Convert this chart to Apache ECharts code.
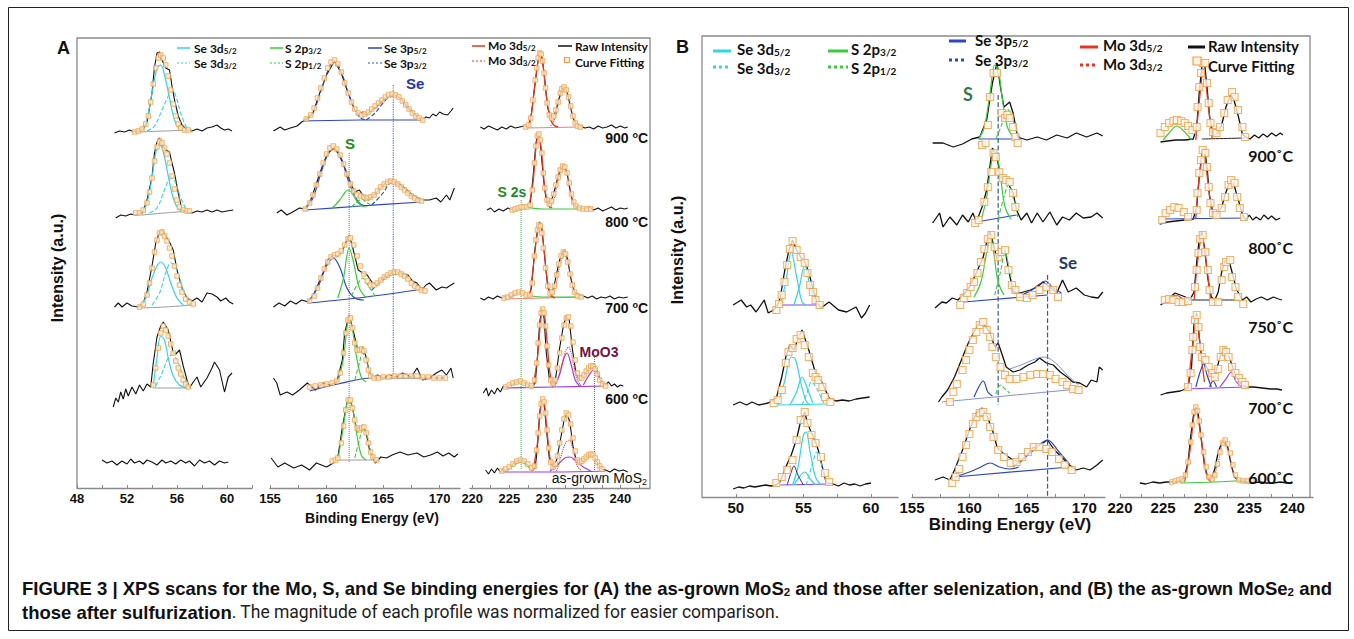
<!DOCTYPE html>
<html><head><meta charset="utf-8">
<script src="https://cdn.jsdelivr.net/npm/echarts@6/dist/echarts.min.js"></script>
<style>html,body{margin:0;padding:0;background:#fff}#c{width:1354px;height:639px}</style>
</head><body><div id="c"></div>
<script>
// ===== Axis tick labels =====
const ticksASe = [48, 52, 56, 60];
const ticksAS = [155, 160, 165, 170];
const ticksAMo = [220, 225, 230, 235, 240];
const ticksBSe = [50, 55, 60];
const ticksBS = [155, 160, 165, 170];
const ticksBMo = [220, 225, 230, 235, 240];
const tempA = ['900 ', '800 ', '700 ', '600 '];
const tempB = ['900', '800', '750', '700', '600'];

// ===== Panel A : Se 3d (x = eV, y = stacked intensity a.u.) =====
const aSe900 = [[51.0,355],[51.4,357],[51.8,356],[52.2,358],[52.6,356],[53.0,357],[53.3,359],[53.6,365],[54.0,395],[54.2,421],[54.4,435],[54.6,436],[54.8,428],[55.1,420],[55.4,418],[55.6,402],[55.8,388],[56.1,372],[56.4,363],[56.8,358],[57.2,357],[57.6,359],[58.0,357],[58.4,360],[58.8,361],[59.2,363],[59.5,360],[59.8,358],[60.1,359],[60.4,357]];
const aSe900C1 = [[53.0,357],[53.5,365],[54.0,395],[54.4,420],[54.7,423],[55.0,413],[55.4,390],[55.8,368],[56.2,359],[56.6,357]];
const aSe900C2 = [[53.6,357],[54.2,362],[54.8,378],[55.3,392],[55.6,398],[55.9,392],[56.3,375],[56.8,360],[57.2,357]];
const aSe900B = [[53.0,356],[55.0,357],[57.2,358]];
const aSe900Fit = [[52.6,356],[52.9,357],[53.2,359],[53.5,364],[53.7,372],[53.9,386],[54.1,404],[54.3,420],[54.5,430],[54.7,433],[54.9,430],[55.1,423],[55.3,412],[55.5,398],[55.7,384],[55.9,372],[56.1,364],[56.3,360],[56.6,358],[56.9,358]];
const aSe800 = [[51.1,270],[51.5,273],[51.9,272],[52.3,274],[52.7,273],[53.0,274],[53.3,277],[53.6,288],[54.0,311],[54.2,335],[54.4,346],[54.6,350],[54.8,343],[55.1,338],[55.4,336],[55.6,325],[55.8,315],[56.1,295],[56.4,278],[56.8,276],[57.2,275],[57.6,277],[58.0,276],[58.4,278],[58.8,276],[59.2,278],[59.6,276],[60.0,277],[60.5,278]];
const aSe800C1 = [[53.2,274],[53.6,285],[54.0,310],[54.3,335],[54.6,343],[54.9,336],[55.3,312],[55.7,290],[56.1,279],[56.5,276]];
const aSe800C2 = [[53.8,275],[54.4,280],[54.9,295],[55.3,307],[55.6,310],[55.9,305],[56.3,290],[56.8,278],[57.1,276]];
const aSe800B = [[53.2,273],[55.0,275],[57.1,277]];
const aSe800Fit = [[52.7,275],[53.0,275],[53.3,278],[53.6,285],[53.8,296],[54.0,310],[54.2,327],[54.4,341],[54.6,347],[54.8,345],[55.0,340],[55.2,334],[55.4,325],[55.6,312],[55.8,299],[56.0,288],[56.2,281],[56.5,278],[56.8,277],[57.0,277]];
const aSe700 = [[51.0,181],[51.3,185],[51.6,181],[52.0,185],[52.4,182],[52.9,181],[53.3,185],[53.6,196],[54.0,222],[54.3,245],[54.6,256],[54.8,258],[55.1,252],[55.4,246],[55.7,238],[56.0,218],[56.4,200],[56.8,190],[57.2,187],[57.6,190],[58.0,186],[58.4,195],[58.8,194],[59.2,191],[59.5,187],[59.9,190],[60.2,186],[60.5,184]];
const aSe700C1 = [[53.0,181],[53.5,190],[54.0,210],[54.4,222],[54.7,226],[55.1,220],[55.5,205],[56.0,190],[56.5,183]];
const aSe700C2 = [[54.0,183],[54.6,195],[55.1,215],[55.5,225],[55.8,223],[56.2,210],[56.6,195],[57.1,184]];
const aSe700B = [[53.0,180],[55.0,181],[57.3,183]];
const aSe700Fit = [[53.0,181],[53.3,184],[53.6,193],[53.8,205],[54.0,220],[54.2,236],[54.4,248],[54.6,255],[54.8,256],[55.0,252],[55.2,247],[55.4,240],[55.6,232],[55.8,222],[56.0,212],[56.2,203],[56.4,196],[56.7,189],[57.0,186],[57.3,184]];
const aSe600 = [[50.9,81],[51.1,90],[51.3,86],[51.5,96],[51.7,89],[51.9,99],[52.1,92],[52.4,101],[52.7,94],[53.0,103],[53.3,97],[53.6,104],[53.9,101],[54.1,125],[54.4,151],[54.7,162],[54.9,166],[55.3,158],[55.7,135],[55.9,134],[56.2,138],[56.5,122],[56.8,108],[57.0,100],[57.3,106],[57.6,111],[57.9,101],[58.4,110],[58.8,120],[59.0,126],[59.4,118],[59.8,96],[60.1,111],[60.4,115]];
const aSe600C1 = [[54.1,102],[54.4,130],[54.7,152],[55.0,148],[55.3,130],[55.7,112],[56.2,103],[56.8,100]];
const aSe600C2 = [[54.3,102],[54.8,115],[55.3,130],[55.6,133],[56.0,128],[56.5,112],[57.0,101]];
const aSe600B = [[54.1,100],[57.0,100]];
const aSe600Fit = [[54.1,103],[54.3,120],[54.5,140],[54.7,155],[54.9,162],[55.1,158],[55.3,152],[55.5,144],[55.7,135],[55.9,127],[56.1,120],[56.3,114],[56.5,108],[56.7,104],[56.9,101]];
const aSeAg = [[50.0,28],[50.4,25],[50.8,27],[51.2,23],[51.6,27],[52.0,24],[52.3,29],[52.6,25],[53.0,27],[53.3,24],[53.6,28],[54.0,26],[54.4,23],[54.8,28],[55.1,25],[55.5,27],[55.9,24],[56.3,28],[56.7,25],[57.0,27],[57.4,22],[57.8,28],[58.2,25],[58.6,27],[59.0,23],[59.4,27],[59.8,25],[60.1,26]];

// ===== Panel A : S 2p / Se 3p =====
const aS900 = [[155.3,357],[155.9,361],[156.3,358],[156.8,360],[157.4,362],[157.8,366],[158.3,369],[158.8,375],[159.4,395],[160.0,413],[160.7,427],[161.3,415],[161.9,395],[162.5,378],[162.9,373],[163.2,376],[163.5,373],[164.0,378],[164.4,381],[165.0,388],[165.4,391],[165.8,393],[166.2,392],[166.5,390],[167.1,381],[167.5,377],[167.8,373],[168.4,368],[168.8,371],[169.1,370],[169.4,374],[169.7,372],[170.0,376],[170.3,374],[170.7,373],[171.0,377],[171.2,380]];
const aS900C1 = [[158.0,368],[158.8,376],[159.6,400],[160.2,420],[160.7,427],[161.3,416],[161.9,396],[162.5,378],[163.0,370],[163.5,368]];
const aS900C2 = [[163.5,368],[164.3,375],[165.0,385],[165.8,392],[166.5,390],[167.2,381],[168.0,372],[168.5,368]];
const aS900B = [[158.0,367],[163.0,368],[168.5,368]];
const aS900Fit = [[158.2,369],[158.6,373],[158.9,380],[159.2,390],[159.5,400],[159.8,410],[160.1,420],[160.4,426],[160.7,428],[161.0,424],[161.3,416],[161.6,405],[161.9,395],[162.2,386],[162.5,379],[162.8,375],[163.1,373],[163.4,374],[163.7,376],[164.0,379],[164.3,382],[164.6,385],[164.9,388],[165.2,391],[165.5,393],[165.8,394],[166.1,393],[166.4,391],[166.7,387],[167.0,383],[167.3,379],[167.6,375],[167.9,372],[168.2,370],[168.5,368]];
const aS800 = [[155.6,275],[156.0,278],[156.5,273],[157.0,276],[157.6,280],[158.1,279],[158.6,288],[159.0,301],[159.6,321],[160.1,335],[160.7,340],[161.2,331],[161.8,315],[162.2,303],[162.5,296],[162.9,298],[163.2,293],[163.7,288],[164.4,295],[165.0,303],[165.6,308],[166.3,305],[166.9,300],[167.6,293],[168.4,288],[169.1,288],[169.7,290],[170.1,286],[170.6,293],[170.9,288],[171.3,300]];
const aS800C1 = [[158.1,279],[158.8,290],[159.5,315],[160.1,333],[160.7,340],[161.3,330],[161.9,308],[162.5,292],[163.0,284],[163.6,282]];
const aS800G1 = [[160.5,280],[161.1,287],[161.6,295],[161.9,298],[162.3,294],[162.8,285],[163.4,281]];
const aS800G2 = [[162.2,281],[162.7,286],[163.1,289],[163.5,286],[164.0,282]];
const aS800C2 = [[164.0,283],[165.0,295],[165.7,305],[166.5,302],[167.3,294],[168.3,287]];
const aS800B = [[158.1,278],[163.0,282],[168.4,286]];
const aS800Fit = [[158.1,279],[158.5,285],[158.8,293],[159.1,303],[159.4,314],[159.7,325],[160.0,334],[160.3,340],[160.6,342],[160.9,339],[161.2,333],[161.5,324],[161.8,314],[162.1,304],[162.4,297],[162.7,293],[163.0,292],[163.3,291],[163.6,290],[163.9,291],[164.2,293],[164.5,297],[164.8,301],[165.1,304],[165.4,306],[165.7,307],[166.0,306],[166.3,304],[166.6,301],[166.9,298],[167.2,295],[167.5,292],[167.8,290],[168.1,288],[168.4,287]];
const aS700 = [[155.3,181],[155.8,185],[156.3,182],[156.8,187],[157.3,184],[157.8,188],[158.4,186],[158.8,192],[159.3,205],[159.8,218],[160.1,228],[160.6,233],[161.0,232],[161.4,237],[161.8,248],[162.0,253],[162.3,241],[162.8,218],[163.2,215],[163.6,213],[164.0,206],[164.4,203],[164.8,208],[165.1,211],[165.6,214],[166.0,217],[166.3,216],[166.8,214],[167.2,213],[167.6,207],[168.0,205],[168.4,198],[168.8,203],[169.1,205],[169.7,198],[170.2,201],[170.6,200],[171.0,203],[171.3,205]];
const aS700C1 = [[158.4,187],[159.2,200],[160.0,222],[160.6,230],[161.2,220],[161.8,200],[162.5,190],[163.3,188]];
const aS700G1 = [[161.0,190],[161.5,210],[162.0,240],[162.4,225],[162.9,200],[163.5,190]];
const aS700G2 = [[162.2,192],[162.8,205],[163.2,210],[163.7,202],[164.3,192]];
const aS700C2 = [[164.0,198],[165.0,208],[166.0,214],[166.6,214],[167.4,208],[168.5,200]];
const aS700B = [[158.4,185],[163.5,191],[168.6,199]];
const aS700Fit = [[158.5,187],[158.9,192],[159.2,200],[159.5,210],[159.8,219],[160.1,226],[160.4,231],[160.7,233],[161.0,234],[161.3,237],[161.6,243],[161.9,249],[162.1,250],[162.4,243],[162.7,232],[163.0,222],[163.3,214],[163.6,207],[163.9,203],[164.2,203],[164.5,205],[164.8,208],[165.1,211],[165.4,213],[165.7,215],[166.0,216],[166.3,216],[166.6,214],[166.9,212],[167.2,209],[167.5,205],[167.8,202],[168.1,200],[168.4,198],[168.7,197]];
const aS600 = [[155.3,110],[155.6,105],[155.9,93],[156.5,96],[157.0,93],[157.6,98],[158.3,105],[159.0,98],[159.7,105],[160.3,103],[160.9,106],[161.4,128],[161.6,155],[162.0,173],[162.3,160],[162.7,141],[162.9,138],[163.2,141],[163.5,131],[163.8,115],[164.1,110],[164.5,113],[165.0,110],[165.6,113],[166.2,111],[166.7,115],[167.5,111],[168.0,120],[168.5,108],[169.1,110],[169.7,115],[170.2,118],[170.6,113],[171.0,120],[171.2,110]];
const aS600G1 = [[161.0,106],[161.5,130],[161.8,160],[162.0,170],[162.3,158],[162.7,128],[163.1,110],[163.5,106]];
const aS600G2 = [[162.5,108],[162.9,125],[163.2,135],[163.5,128],[163.9,112],[164.3,107]];
const aS600B = [[158.5,97],[161.0,104],[164.0,110],[170.5,110]];
const aS600Fit = [[158.5,101],[159.0,102],[159.5,103],[160.0,104],[160.5,105],[160.9,107],[161.2,115],[161.5,135],[161.7,155],[161.9,168],[162.1,170],[162.3,160],[162.5,145],[162.7,138],[162.9,138],[163.1,139],[163.3,137],[163.5,128],[163.7,118],[163.9,112],[164.2,110],[164.6,110],[165.0,111],[165.5,111],[166.0,112],[166.5,112],[167.0,112],[167.5,112],[168.0,112],[168.5,111],[169.0,111],[169.5,110],[170.0,110],[170.5,110]];
const aSAg = [[155.1,30],[155.7,21],[156.3,25],[157.1,20],[157.8,23],[158.5,18],[159.1,25],[160.0,21],[160.6,25],[161.0,31],[161.4,61],[161.8,85],[162.0,91],[162.3,80],[162.7,56],[163.0,58],[163.2,63],[163.5,55],[163.8,38],[164.3,25],[164.8,31],[165.3,30],[165.8,33],[166.5,36],[167.2,33],[168.0,35],[168.6,31],[169.2,33],[169.8,36],[170.3,32],[170.8,35],[171.3,31],[171.6,34]];
const aSAgG1 = [[161.0,28],[161.4,55],[161.8,84],[162.0,88],[162.3,80],[162.7,52],[163.1,32],[163.5,28]];
const aSAgG2 = [[162.5,30],[162.9,48],[163.3,60],[163.6,52],[164.0,34],[164.4,28]];
const aSAgB = [[161.0,28],[164.5,28]];
const aSAgFit = [[160.5,27],[160.8,28],[161.0,30],[161.3,45],[161.5,62],[161.7,78],[161.9,88],[162.1,88],[162.3,80],[162.5,68],[162.7,60],[162.9,58],[163.1,60],[163.3,61],[163.5,55],[163.7,45],[163.9,36],[164.1,31],[164.4,28]];
const aVLineS = [[162.0,335],[162.0,25]];
const aVLineSe = [[165.9,403],[165.9,110]];

// ===== Panel A : Mo 3d =====
const aMo900 = [[221.1,361],[221.6,359],[222.2,362],[222.8,360],[223.4,358],[224.0,361],[224.6,359],[225.2,362],[225.8,360],[226.4,361],[227.0,362],[227.6,362],[228.0,375],[228.5,405],[228.9,428],[229.2,436],[229.5,428],[229.9,400],[230.2,380],[230.6,371],[231.0,372],[231.4,380],[231.8,392],[232.1,399],[232.4,402],[232.8,396],[233.2,383],[233.6,370],[234.0,364],[234.6,362],[235.2,360],[235.8,361],[236.4,359],[237.0,362],[237.6,360],[238.2,361],[238.8,363],[239.4,360],[240.0,362],[240.6,360],[241.0,361]];
const aMo900R1 = [[227.2,361],[227.8,366],[228.4,400],[228.9,428],[229.2,433],[229.6,420],[230.0,392],[230.5,370],[231.0,363],[231.6,361]];
const aMo900R2 = [[230.6,362],[231.2,370],[231.8,390],[232.4,400],[233.0,392],[233.6,372],[234.2,363],[234.8,361]];
const aMo900B = [[227.2,360],[234.8,361]];
const aMo900Fit = [[227.2,361],[227.6,363],[227.9,370],[228.2,388],[228.5,408],[228.7,420],[228.9,430],[229.1,435],[229.3,434],[229.5,427],[229.7,415],[229.9,400],[230.1,385],[230.4,373],[230.7,370],[231.0,372],[231.3,378],[231.6,386],[231.9,395],[232.1,399],[232.4,401],[232.7,398],[233.0,391],[233.3,382],[233.6,372],[233.9,365],[234.2,362],[234.6,361]];
const aMo800 = [[222.0,278],[222.5,280],[223.0,276],[223.6,279],[224.2,277],[224.8,280],[225.4,278],[226.0,279],[226.6,280],[227.2,280],[227.8,282],[228.2,310],[228.6,345],[228.9,355],[229.2,345],[229.6,310],[230.0,287],[230.4,284],[230.8,290],[231.2,300],[231.6,312],[232.0,320],[232.4,323],[232.8,315],[233.2,298],[233.6,285],[234.0,281],[234.6,280],[235.2,279],[235.8,281],[236.4,278],[237.0,280],[237.6,277],[238.2,279],[238.8,281],[239.4,278],[240.0,280],[240.6,279],[241.0,280]];
const aMo800R1 = [[227.6,280],[228.2,305],[228.6,340],[228.9,352],[229.3,340],[229.8,300],[230.3,283],[230.8,280]];
const aMo800R2 = [[230.4,280],[231.0,288],[231.7,310],[232.3,320],[232.9,312],[233.5,290],[234.1,281],[234.6,280]];
const aMo800G = [[225.4,278],[226.2,280],[227.0,281],[228.0,280],[229.5,279],[231.5,279],[233.5,279],[235.0,279]];
const aMo800Fit = [[225.4,278],[225.8,279],[226.2,280],[226.6,281],[227.0,281],[227.4,281],[227.8,283],[228.1,298],[228.4,325],[228.6,342],[228.8,352],[229.0,354],[229.2,348],[229.4,335],[229.6,315],[229.8,300],[230.1,288],[230.4,284],[230.7,287],[231.0,294],[231.3,303],[231.6,311],[231.9,318],[232.2,322],[232.5,321],[232.8,315],[233.1,305],[233.4,294],[233.7,286],[234.0,282],[234.5,280],[235.0,279],[235.5,279],[236.0,279]];
const aMo700 = [[221.1,190],[221.6,188],[222.2,191],[222.8,189],[223.4,192],[224.0,190],[224.6,192],[225.2,191],[225.8,194],[226.4,196],[227.0,194],[227.6,192],[228.0,200],[228.4,235],[228.8,258],[229.1,266],[229.4,260],[229.8,230],[230.2,200],[230.6,195],[231.0,200],[231.4,215],[231.8,228],[232.2,236],[232.5,238],[232.9,228],[233.3,210],[233.8,196],[234.4,193],[235.0,192],[235.6,190],[236.2,192],[236.8,189],[237.4,191],[238.0,190],[238.6,192],[239.2,189],[239.8,191],[240.4,190],[241.0,191]];
const aMo700R1 = [[227.8,191],[228.3,225],[228.8,255],[229.2,262],[229.6,245],[230.1,210],[230.6,193],[231.2,190]];
const aMo700R2 = [[230.6,191],[231.2,200],[231.8,222],[232.4,234],[233.0,222],[233.6,200],[234.2,191]];
const aMo700G = [[224.3,190],[225.3,193],[226.2,195],[227.0,194],[228.0,192],[229.5,191],[232.0,191],[234.9,191]];
const aMo700B = [[224.3,189],[234.9,191]];
const aMo700Fit = [[224.3,190],[224.8,191],[225.3,193],[225.8,195],[226.3,196],[226.8,195],[227.3,193],[227.8,193],[228.1,205],[228.4,232],[228.6,248],[228.8,258],[229.0,263],[229.2,262],[229.4,255],[229.6,240],[229.9,220],[230.2,202],[230.5,195],[230.8,196],[231.1,202],[231.4,213],[231.7,224],[232.0,232],[232.3,236],[232.6,234],[232.9,226],[233.2,214],[233.5,203],[233.8,196],[234.2,192],[234.7,191]];
const aMo600 = [[221.5,95],[221.9,100],[222.2,92],[222.6,98],[223.0,94],[223.4,100],[223.8,96],[224.2,102],[224.6,100],[225.0,103],[225.5,104],[226.0,106],[226.5,107],[227.0,105],[227.5,103],[228.0,100],[228.5,105],[228.8,130],[229.1,165],[229.4,180],[229.7,170],[230.0,135],[230.4,110],[230.9,101],[231.3,112],[231.8,140],[232.3,162],[232.7,172],[233.1,168],[233.5,140],[234.0,115],[234.5,108],[235.0,112],[235.6,118],[236.0,122],[236.4,124],[236.8,118],[237.2,110],[237.6,104],[238.0,103],[238.4,106],[238.8,102],[239.2,104],[239.6,101],[240.0,103],[240.4,102]];
const aMo600R1 = [[228.2,101],[228.8,130],[229.3,172],[229.6,178],[230.0,155],[230.5,115],[231.0,102]];
const aMo600R2 = [[231.2,102],[231.9,115],[232.5,135],[233.0,141],[233.5,130],[234.1,110],[234.7,102]];
const aMo600P1 = [[231.0,102],[231.7,112],[232.3,128],[232.8,135],[233.3,125],[233.9,108],[234.5,102]];
const aMo600P2 = [[235.0,103],[235.7,112],[236.4,118],[237.0,112],[237.8,103]];
const aMo600B = [[224.5,100],[231.0,101],[238.0,102]];
const aMo600G = [[224.5,101],[225.5,104],[226.4,106],[227.3,104],[228.2,101]];
const aMo600Fit = [[224.5,101],[225.0,103],[225.5,105],[226.0,106],[226.5,107],[227.0,105],[227.5,103],[228.0,102],[228.4,108],[228.7,125],[228.9,145],[229.1,163],[229.3,175],[229.5,179],[229.7,175],[229.9,162],[230.1,142],[230.3,123],[230.6,108],[230.9,104],[231.2,108],[231.5,120],[231.8,135],[232.1,150],[232.4,163],[232.7,170],[233.0,171],[233.3,162],[233.6,146],[233.9,128],[234.2,115],[234.5,110],[234.8,110],[235.1,113],[235.4,117],[235.7,120],[236.0,122],[236.3,122],[236.6,119],[236.9,114],[237.2,108],[237.6,104],[238.0,102]];
const aMoAg = [[221.8,18],[222.2,14],[222.6,19],[223.0,15],[223.4,20],[223.8,16],[224.2,19],[224.6,17],[225.0,20],[225.5,24],[226.0,27],[226.5,28],[227.0,27],[227.5,23],[228.0,18],[228.5,20],[228.8,40],[229.1,75],[229.4,88],[229.7,85],[230.0,60],[230.4,30],[230.9,21],[231.4,28],[231.9,48],[232.4,68],[232.8,75],[233.2,65],[233.6,42],[234.1,26],[234.6,26],[235.1,28],[235.6,32],[236.1,33],[236.5,31],[237.0,24],[237.5,19],[238.0,18],[238.6,16],[239.2,19],[239.8,17],[240.4,18],[241.0,16]];
const aMoAgR1 = [[228.2,17],[228.8,45],[229.3,85],[229.6,88],[230.0,65],[230.5,30],[231.0,18]];
const aMoAgR2 = [[231.4,17],[232.0,32],[232.6,45],[233.1,48],[233.6,38],[234.2,22],[234.8,17]];
const aMoAgP1 = [[230.5,17],[231.5,23],[232.5,30],[233.2,31],[234.0,27],[235.0,21],[236.0,17]];
const aMoAgB = [[224.0,16],[231.0,16],[238.0,17]];
const aMoAgG = [[224.5,17],[225.5,22],[226.5,26],[227.3,23],[228.0,18]];
const aMoAgFit = [[224.0,17],[224.5,19],[225.0,21],[225.5,24],[226.0,27],[226.5,28],[227.0,27],[227.5,24],[228.0,20],[228.4,22],[228.7,38],[228.9,55],[229.1,72],[229.3,84],[229.5,89],[229.7,86],[229.9,75],[230.1,58],[230.3,40],[230.6,26],[230.9,21],[231.2,24],[231.5,32],[231.8,45],[232.1,58],[232.4,69],[232.7,75],[233.0,73],[233.3,64],[233.6,50],[233.9,37],[234.2,28],[234.5,26],[234.8,27],[235.1,29],[235.4,31],[235.7,33],[236.0,34],[236.3,33],[236.6,30],[236.9,26],[237.2,22],[237.5,19]];
const aVLineS2s = [[226.6,288],[226.6,18]];
const aVLineMoO3 = [[236.5,131],[236.5,18]];

// ===== Panel B : Se 3d =====
const bSe750 = [[49.8,192],[50.4,197],[50.8,190],[51.1,192],[51.5,185],[52.1,197],[52.4,184],[52.8,187],[53.1,192],[53.3,200],[53.6,225],[53.9,245],[54.2,257],[54.5,247],[54.8,240],[55.1,235],[55.4,225],[55.7,208],[56.0,195],[56.3,189],[56.9,195],[57.6,187],[58.2,185],[58.9,190],[59.3,179],[59.6,184],[59.9,192]];
const bSe750C1 = [[53.3,192],[53.7,215],[54.1,245],[54.5,220],[54.9,195],[55.2,192]];
const bSe750C2 = [[54.3,192],[54.7,210],[55.1,232],[55.5,210],[55.9,192]];
const bSe750B = [[53.3,192],[56.0,192]];
const bSe750Fit = [[53.0,187],[53.2,193],[53.4,202],[53.6,215],[53.8,232],[54.0,248],[54.2,256],[54.5,247],[54.8,240],[55.1,234],[55.3,224],[55.5,212],[55.7,205],[55.9,197],[56.2,192]];
const bSe700 = [[49.8,92],[50.3,95],[50.8,92],[51.2,95],[51.7,92],[52.4,94],[53.0,99],[53.4,120],[53.7,140],[54.0,152],[54.3,147],[54.6,158],[54.9,167],[55.2,155],[55.4,147],[55.9,124],[56.4,114],[56.9,99],[57.4,96],[57.9,97],[58.4,96],[58.9,98],[59.4,99],[59.9,100]];
const bSe700C1 = [[53.1,92],[53.6,115],[54.1,140],[54.4,138],[54.8,115],[55.2,96],[55.5,92]];
const bSe700C2 = [[54.0,92],[54.5,105],[54.9,120],[55.3,108],[55.7,94]];
const bSe700C3 = [[54.9,92],[55.3,105],[55.6,115],[56.0,108],[56.5,94]];
const bSe700B = [[53.1,92],[56.8,93]];
const bSe700Fit = [[52.8,94],[53.1,97],[53.4,107],[53.7,134],[53.9,145],[54.2,149],[54.5,158],[54.8,162],[55.1,152],[55.4,140],[55.7,124],[55.9,120],[56.1,117],[56.4,110],[56.6,100],[57.0,95]];
const bSe600 = [[49.8,8],[50.2,10],[50.6,9],[51.0,11],[51.4,10],[51.8,11],[52.2,12],[52.6,11],[53.0,12],[53.3,16],[53.7,30],[54.1,42],[54.5,58],[54.8,76],[55.1,85],[55.3,74],[55.6,64],[55.9,55],[56.1,47],[56.4,30],[56.7,14],[57.2,13],[57.6,11],[58.0,14],[58.4,12],[58.8,13],[59.2,11],[59.6,13],[60.0,14]];
const bSe600C1 = [[54.2,12],[54.6,30],[55.0,62],[55.2,65],[55.5,45],[55.9,20],[56.3,12]];
const bSe600C2 = [[55.2,12],[55.6,30],[56.0,45],[56.4,30],[56.8,12]];
const bSe600C3 = [[54.3,12],[54.7,20],[55.1,25],[55.5,18],[55.9,12]];
const bSe600N = [[53.8,12],[54.1,25],[54.3,31],[54.6,22],[55.0,12]];
const bSe600B = [[53.3,12],[57.0,13]];
const bSe600Fit = [[53.0,14],[53.4,20],[53.8,27],[54.2,37],[54.5,57],[54.8,77],[55.1,85],[55.3,74],[55.6,62],[55.9,54],[56.3,40],[56.6,24],[56.9,15]];

// ===== Panel B : S 2p / Se 3p =====
const bS900 = [[156.8,354],[157.7,354],[158.6,350],[159.4,353],[160.2,358],[160.9,360],[161.5,377],[162.0,414],[162.4,434],[162.7,410],[163.0,390],[163.5,395],[163.8,384],[164.2,360],[165.0,357],[165.9,360],[166.7,357],[167.6,362],[168.5,359],[169.3,364],[170.2,360],[171.1,364],[171.6,361]];
const bS900G1 = [[160.8,358],[161.3,370],[161.8,405],[162.2,432],[162.5,428],[162.9,395],[163.3,370],[163.8,360]];
const bS900G2 = [[162.3,358],[162.8,372],[163.3,388],[163.7,380],[164.1,365],[164.5,358]];
const bS900B = [[160.8,358],[164.5,358]];
const bS900Fit = [[161.1,352],[161.4,354],[161.6,372],[161.8,400],[162.1,424],[162.4,424],[162.8,384],[163.1,379],[163.3,382],[163.5,379],[163.8,370],[164.0,360],[164.2,354]];
const bS800 = [[156.8,274],[157.4,284],[157.7,270],[158.3,280],[158.9,272],[159.4,282],[159.9,275],[160.3,284],[160.6,275],[161.1,290],[161.5,307],[162.0,349],[162.4,340],[162.7,320],[163.2,317],[163.8,304],[164.1,287],[164.5,277],[165.0,284],[165.4,274],[165.9,284],[166.4,275],[167.0,285],[167.6,272],[168.1,280],[168.7,277],[169.3,284],[169.9,279],[170.6,280],[171.1,284],[171.6,279]];
const bS800G1 = [[161.0,276],[161.5,300],[162.0,340],[162.3,345],[162.7,320],[163.1,290],[163.6,278]];
const bS800G2 = [[162.5,278],[163.0,300],[163.4,312],[163.8,300],[164.2,280]];
const bS800B = [[160.6,275],[164.1,282]];
const bS800Fit = [[160.5,274],[160.8,277],[161.3,295],[161.6,310],[161.9,325],[162.1,344],[162.3,340],[162.6,325],[162.9,319],[163.2,317],[163.5,315],[163.8,304],[164.0,290]];
const bS750 = [[157.0,189],[157.6,195],[158.0,194],[158.5,199],[159.0,197],[159.6,204],[160.0,210],[160.6,224],[161.2,240],[161.5,255],[161.8,265],[162.1,252],[162.4,238],[162.7,243],[163.1,247],[163.4,228],[163.8,205],[164.4,204],[165.3,207],[165.9,210],[166.4,215],[167.0,210],[167.6,204],[168.1,217],[168.6,205],[169.3,209],[170.0,202],[170.6,200],[171.2,199],[171.6,205]];
const bS750G1 = [[160.4,200],[161.0,215],[161.5,245],[161.8,262],[162.1,245],[162.5,215],[163.0,202]];
const bS750G2 = [[162.2,202],[162.7,225],[163.1,245],[163.5,225],[163.9,205]];
const bS750B = [[159.5,195],[166.8,202]];
const bS750C = [[164.5,202],[165.3,206],[166.0,212],[166.6,216],[167.2,210],[168.0,204]];
const bS750Fit = [[159.2,192],[159.5,199],[159.8,204],[160.1,210],[160.4,215],[160.7,224],[161.0,235],[161.3,248],[161.6,258],[161.9,262],[162.2,250],[162.5,240],[162.8,245],[163.1,247],[163.4,227],[163.7,212],[164.0,207],[164.4,200],[165.0,199],[165.5,202],[166.1,207],[166.7,210],[167.3,207],[167.7,200]];
const bS700 = [[157.3,95],[157.6,100],[158.1,107],[158.7,120],[159.3,137],[159.9,154],[160.5,167],[160.9,175],[161.3,172],[161.8,164],[162.2,150],[162.5,154],[162.8,144],[163.2,130],[163.8,125],[164.4,127],[165.1,132],[165.7,135],[166.1,139],[166.7,134],[167.3,132],[167.9,125],[168.5,120],[169.0,115],[169.6,114],[170.2,110],[170.6,117],[171.1,115],[171.3,130],[171.6,127]];
const bS700B = [[157.6,95],[169.5,108]];
const bS700C = [[160.4,100],[160.9,112],[161.2,116],[161.6,105],[162.0,101]];
const bS700C2 = [[163.5,128],[164.5,132],[165.5,137],[166.5,140],[167.5,134],[168.5,122],[169.5,112]];
const bS700G2 = [[162.3,103],[162.7,112],[163.1,108],[163.5,104]];
const bS700Fit = [[158.3,95],[158.6,105],[158.9,113],[159.4,127],[159.7,137],[160.0,147],[160.3,157],[160.6,165],[160.9,172],[161.2,175],[161.5,167],[161.8,160],[162.0,150],[162.3,140],[162.7,130],[163.1,122],[163.5,118],[164.1,118],[164.7,120],[165.3,122],[165.9,123],[166.4,123],[167.0,122],[167.5,118],[168.1,115],[168.5,112],[169.0,108],[169.5,107]];
const bS600 = [[157.0,17],[157.7,20],[158.3,17],[158.7,27],[159.4,47],[160.0,67],[160.6,84],[161.1,89],[161.5,82],[162.0,67],[162.4,50],[162.9,44],[163.8,37],[164.4,35],[165.0,42],[165.5,49],[166.1,52],[166.8,57],[167.4,47],[168.1,39],[168.7,32],[169.3,27],[169.9,29],[170.5,27],[171.1,32],[171.6,37]];
const bS600C1 = [[158.7,20],[160.0,25],[161.0,30],[161.8,34],[162.6,30],[163.5,28],[164.3,30]];
const bS600C2 = [[163.8,30],[164.6,37],[165.6,47],[166.8,57],[167.8,45],[168.7,33]];
const bS600B = [[158.7,20],[168.7,30]];
const bS600Fit = [[158.5,14],[158.8,20],[159.1,28],[159.4,40],[159.7,52],[160.0,63],[160.3,73],[160.6,80],[160.9,84],[161.2,85],[161.5,80],[161.8,70],[162.1,60],[162.5,47],[163.0,40],[163.6,34],[164.1,35],[164.6,40],[165.1,45],[165.6,50],[166.1,50],[166.7,48],[167.2,45],[167.8,38],[168.3,32],[168.9,27]];
const bVLineS = [[162.5,402],[162.5,92]];
const bVLineSe = [[166.8,222],[166.8,0]];

// ===== Panel B : Mo 3d =====
const bMo900 = [[224.7,355],[225.5,356],[226.5,357],[227.5,357],[228.5,358],[228.9,370],[229.2,405],[229.5,430],[229.8,435],[230.1,410],[230.4,380],[230.8,362],[231.3,363],[231.8,372],[232.3,390],[232.8,402],[233.2,398],[233.7,382],[234.2,363],[234.6,360],[235.1,358],[235.6,362],[236.1,359],[236.6,363],[237.1,360],[237.6,364],[238.1,361],[238.6,364],[238.9,362]];
const bMo900G = [[225.0,357],[225.8,365],[226.6,371],[227.4,366],[228.3,357]];
const bMo900R = [[228.8,357],[229.2,395],[229.7,428],[230.2,395],[230.7,358]];
const bMo900B = [[229.5,358],[234.5,359]];
const bMo900Fit = [[224.7,364],[225.2,370],[225.7,374],[226.2,376],[226.6,377],[227.1,376],[227.5,374],[227.9,371],[228.4,367],[228.9,370],[229.0,390],[229.2,410],[229.4,424],[229.6,434],[229.9,434],[230.1,414],[230.3,394],[230.5,374],[230.8,365],[231.2,364],[231.6,370],[232.1,384],[232.5,397],[233.0,405],[233.3,400],[233.7,387],[234.2,370],[234.5,360]];
const bMo800 = [[224.6,273],[225.5,275],[226.5,276],[227.5,277],[228.5,278],[228.9,290],[229.2,320],[229.5,343],[229.8,349],[230.1,330],[230.4,300],[230.8,284],[231.3,283],[231.8,290],[232.3,305],[232.8,316],[233.2,313],[233.7,298],[234.2,283],[234.6,277],[235.0,282],[235.4,277],[235.8,280],[236.3,277],[236.7,282],[237.2,278],[237.6,281],[238.1,277],[238.6,279]];
const bMo800R = [[228.8,279],[229.2,320],[229.7,345],[230.2,315],[230.7,280]];
const bMo800B = [[225.0,278],[234.5,279]];
const bMo800Fit = [[224.9,277],[225.3,284],[225.8,287],[226.3,290],[226.8,289],[227.4,285],[227.9,280],[228.9,287],[229.0,304],[229.2,324],[229.4,337],[229.6,347],[229.9,344],[230.1,330],[230.3,310],[230.5,294],[230.8,284],[231.2,282],[231.8,289],[232.2,300],[232.6,312],[232.9,317],[233.3,314],[233.6,300],[233.9,289],[234.4,280]];
const bMo750 = [[224.7,192],[225.2,195],[225.8,200],[226.4,204],[227.0,202],[227.6,200],[228.1,197],[228.6,205],[228.9,235],[229.2,258],[229.5,265],[229.8,250],[230.2,218],[230.6,200],[231.0,197],[231.4,205],[231.8,225],[232.2,236],[232.6,238],[233.0,225],[233.5,208],[234.2,197],[234.7,200],[235.2,195],[235.8,198],[236.4,200],[237.1,197],[237.8,200],[238.4,198],[238.8,197]];
const bMo750M = [[225.0,193],[225.8,199],[226.5,202],[227.3,198],[228.0,194]];
const bMo750R = [[228.6,197],[229.0,235],[229.5,260],[230.0,235],[230.5,198]];
const bMo750B = [[228.0,197],[234.0,197]];
const bMo750Fit = [[225.2,197],[225.7,198],[226.2,197],[226.8,195],[227.3,195],[227.9,196],[228.7,210],[228.9,227],[229.1,244],[229.3,258],[229.6,262],[229.9,245],[230.2,227],[230.4,207],[230.8,195],[231.4,195],[231.8,217],[232.1,230],[232.3,235],[232.8,237],[233.0,220],[233.4,210],[233.7,200],[234.3,193]];
const bMo700 = [[224.7,102],[225.4,104],[226.2,105],[227.0,106],[227.6,108],[227.9,110],[228.3,130],[228.6,175],[228.9,184],[229.2,160],[229.5,137],[229.9,132],[230.3,126],[230.8,119],[231.2,127],[231.6,140],[232.1,150],[232.5,144],[233.0,132],[233.5,120],[234.0,114],[234.6,110],[235.5,110],[236.5,109],[237.5,108],[238.2,108],[238.8,107]];
const bMo700R = [[227.9,110],[228.4,150],[228.9,180],[229.3,150],[229.8,115]];
const bMo700C1 = [[228.8,110],[229.3,125],[229.7,133],[230.1,122],[230.6,110]];
const bMo700C2 = [[230.4,110],[230.8,116],[231.2,110]];
const bMo700P = [[231.6,110],[232.3,118],[232.9,125],[233.5,115],[234.2,110]];
const bMo700B = [[227.6,108],[234.5,110]];
const bMo700Fit = [[227.9,110],[228.2,124],[228.4,147],[228.5,160],[228.7,177],[228.9,182],[229.1,170],[229.3,150],[229.5,140],[229.9,137],[230.3,130],[230.7,124],[231.0,120],[231.4,128],[231.7,140],[232.0,147],[232.3,145],[232.6,140],[233.0,130],[233.4,124],[233.8,119],[234.2,115],[234.5,112]];
const bMo600 = [[222.3,14],[223.0,13],[223.8,15],[224.6,14],[225.4,15],[226.2,15],[227.0,16],[227.5,20],[227.9,35],[228.2,60],[228.5,80],[228.8,90],[229.1,82],[229.4,60],[229.8,32],[230.2,19],[230.6,18],[231.0,28],[231.4,45],[231.8,54],[232.1,57],[232.5,50],[232.9,32],[233.3,20],[233.8,16],[234.5,15],[235.3,14],[236.2,15],[237.0,14],[237.8,14],[238.6,15],[239.4,14],[240.0,14]];
const bMo600R1 = [[227.5,15],[228.1,45],[228.8,88],[229.4,60],[230.1,20],[230.6,15]];
const bMo600R2 = [[230.8,16],[231.4,35],[232.0,54],[232.6,45],[233.2,24],[233.8,16]];
const bMo600G = [[227.0,14],[231.0,15],[235.0,17]];
const bMo600Fit = [[226.0,15],[226.4,16],[226.8,17],[227.2,18],[227.6,22],[227.9,35],[228.2,55],[228.4,72],[228.6,85],[228.8,90],[229.0,86],[229.2,76],[229.4,62],[229.7,45],[230.0,30],[230.3,20],[230.7,18],[231.0,22],[231.3,33],[231.6,45],[231.9,54],[232.2,57],[232.5,53],[232.8,44],[233.1,32],[233.4,22],[233.8,17],[234.3,16],[234.8,16],[235.3,17]];

// ===== styles =====
const COL = {cyan:'#2fd6e4', green:'#38cc38', blue:'#2b46c8', red:'#e8351e', purple:'#9a3cf2', grey:'#9a9a9a', navy:'#1c2a8a', mag:'#d0308a', black:'#111'};
const STY = {
  raw:{c:COL.black,w:1.1}, rawB:{c:COL.black,w:1.3},
  cy:{c:COL.cyan,w:1.2,s:1}, cyD:{c:COL.cyan,w:1.1,t:'dashed',s:1},
  gr:{c:COL.green,w:1.2,s:1}, grD:{c:COL.green,w:1.1,t:'dashed',s:1},
  bl:{c:COL.blue,w:1.2,s:1}, blD:{c:COL.blue,w:1.1,t:'dashed',s:1}, blL:{c:'#7f8fd8',w:1,s:1},
  re:{c:COL.red,w:1.3,s:1}, reD:{c:COL.red,w:1.1,t:'dotted',s:1}, reL:{c:'#f08070',w:1,s:1},
  pu:{c:COL.purple,w:1.2,s:1}, gy:{c:COL.grey,w:1,s:1}, nv:{c:COL.navy,w:1,s:1}, mg:{c:COL.mag,w:1.2,s:1},
  bk:{c:'#222',w:1,s:1},
  vG:{c:'#3aa83a',w:1,t:'dotted'}, vB:{c:'#5570e0',w:1.2,t:'dotted'}, vP:{c:'#a05070',w:1,t:'dotted'},
  vN:{c:'#3b5a8a',w:1.2,t:'dashed'}
};
// [grid, style, data]
const specs = [
 [0,'raw',aSe900],[0,'gy',aSe900B],[0,'cy',aSe900C1],[0,'cyD',aSe900C2],[0,'fitA',aSe900Fit],
 [0,'raw',aSe800],[0,'gy',aSe800B],[0,'cy',aSe800C1],[0,'cyD',aSe800C2],[0,'fitA',aSe800Fit],
 [0,'raw',aSe700],[0,'gy',aSe700B],[0,'cy',aSe700C1],[0,'cyD',aSe700C2],[0,'fitA',aSe700Fit],
 [0,'raw',aSe600],[0,'gy',aSe600B],[0,'cy',aSe600C1],[0,'cyD',aSe600C2],[0,'fitA',aSe600Fit],
 [0,'raw',aSeAg],
 [1,'vG',aVLineS],[1,'vB',aVLineSe],
 [1,'raw',aS900],[1,'bl',aS900B],[1,'blD',aS900C1],[1,'blD',aS900C2],[1,'fitA',aS900Fit],
 [1,'raw',aS800],[1,'bl',aS800B],[1,'bl',aS800C1],[1,'gr',aS800G1],[1,'grD',aS800G2],[1,'blD',aS800C2],[1,'fitA',aS800Fit],
 [1,'raw',aS700],[1,'bl',aS700B],[1,'bl',aS700C1],[1,'gr',aS700G1],[1,'grD',aS700G2],[1,'blD',aS700C2],[1,'fitA',aS700Fit],
 [1,'raw',aS600],[1,'bl',aS600B],[1,'gr',aS600G1],[1,'grD',aS600G2],[1,'fitA',aS600Fit],
 [1,'raw',aSAg],[1,'gy',aSAgB],[1,'gr',aSAgG1],[1,'grD',aSAgG2],[1,'fitA',aSAgFit],
 [2,'vG',aVLineS2s],[2,'vP',aVLineMoO3],
 [2,'raw',aMo900],[2,'reL',aMo900B],[2,'re',aMo900R1],[2,'reD',aMo900R2],[2,'fitA',aMo900Fit],
 [2,'raw',aMo800],[2,'gr',aMo800G],[2,'re',aMo800R1],[2,'reD',aMo800R2],[2,'fitA',aMo800Fit],
 [2,'raw',aMo700],[2,'reL',aMo700B],[2,'gr',aMo700G],[2,'re',aMo700R1],[2,'reD',aMo700R2],[2,'fitA',aMo700Fit],
 [2,'raw',aMo600],[2,'pu',aMo600B],[2,'gr',aMo600G],[2,'re',aMo600R1],[2,'pu',aMo600P1],[2,'reD',aMo600R2],[2,'pu',aMo600P2],[2,'fitA',aMo600Fit],
 [2,'raw',aMoAg],[2,'pu',aMoAgB],[2,'gr',aMoAgG],[2,'re',aMoAgR1],[2,'pu',aMoAgP1],[2,'reD',aMoAgR2],[2,'fitA',aMoAgFit],
 [3,'rawB',bSe750],[3,'pu',bSe750B],[3,'cy',bSe750C1],[3,'cy',bSe750C2],[3,'fitB',bSe750Fit],
 [3,'rawB',bSe700],[3,'cy',bSe700B],[3,'cy',bSe700C1],[3,'cy',bSe700C2],[3,'cyD',bSe700C3],[3,'fitB',bSe700Fit],
 [3,'rawB',bSe600],[3,'pu',bSe600B],[3,'cy',bSe600C1],[3,'cyD',bSe600C2],[3,'cy',bSe600C3],[3,'nv',bSe600N],[3,'fitB',bSe600Fit],
 [4,'vN',bVLineS],[4,'vN',bVLineSe],
 [4,'rawB',bS900],[4,'bl',bS900B],[4,'gr',bS900G1],[4,'grD',bS900G2],[4,'fitB',bS900Fit],
 [4,'rawB',bS800],[4,'bl',bS800B],[4,'gr',bS800G1],[4,'grD',bS800G2],[4,'fitB',bS800Fit],
 [4,'rawB',bS750],[4,'bl',bS750B],[4,'bl',bS750C],[4,'gr',bS750G1],[4,'grD',bS750G2],[4,'fitB',bS750Fit],
 [4,'rawB',bS700],[4,'blL',bS700B],[4,'bl',bS700C],[4,'blL',bS700C2],[4,'grD',bS700G2],[4,'fitB',bS700Fit],
 [4,'rawB',bS600],[4,'bl',bS600B],[4,'bl',bS600C1],[4,'bl',bS600C2],[4,'fitB',bS600Fit],
 [5,'rawB',bMo900],[5,'bk',bMo900B],[5,'gr',bMo900G],[5,'re',bMo900R],[5,'fitB',bMo900Fit],
 [5,'rawB',bMo800],[5,'bl',bMo800B],[5,'re',bMo800R],[5,'fitB',bMo800Fit],
 [5,'rawB',bMo750],[5,'bk',bMo750B],[5,'mg',bMo750M],[5,'re',bMo750R],[5,'fitB',bMo750Fit],
 [5,'rawB',bMo700],[5,'pu',bMo700B],[5,'re',bMo700R],[5,'bl',bMo700C1],[5,'bl',bMo700C2],[5,'pu',bMo700P],[5,'fitB',bMo700Fit],
 [5,'rawB',bMo600],[5,'gr',bMo600G],[5,'re',bMo600R1],[5,'reD',bMo600R2],[5,'fitA',bMo600Fit]
];

const series = specs.map(([g, st, data]) => {
  if (st === 'fitA' || st === 'fitB') {
    const big = st === 'fitB';
    return {type:'scatter', xAxisIndex:g, yAxisIndex:g, data, symbol:'rect', symbolSize: big ? 7 : 4.5,
      itemStyle:{color: big ? '#fff6ea' : '#fdeacc', borderColor:'#f0a048', borderWidth: big ? 1.1 : 1},
      silent:true, z:5};
  }
  const s = STY[st];
  return {type:'line', xAxisIndex:g, yAxisIndex:g, data, symbol:'none', showSymbol:false,
    smooth: s.s ? 0.35 : false, silent:true, z: st.startsWith('raw') ? 2 : 3,
    lineStyle:{color:s.c, width:s.w, type:s.t || 'solid'}};
});

// ===== grids / axes =====
const gridsPx = [
  {left:77, top:38, width:175, height:450}, {left:270, top:38, width:190, height:450}, {left:470, top:38, width:180, height:450},
  {left:702, top:36, width:196, height:461}, {left:912, top:36, width:193, height:461}, {left:1120, top:36, width:193, height:461}
];
const FA = "'Liberation Sans', Arial, sans-serif";
const FL = "Lato, 'Open Sans', sans-serif";
const xDefs = [
  {min:48, max:62, lab:ticksASe, tick:[48,50,52,54,56,58,60,62], fs:13},
  {min:155, max:171.8, lab:ticksAS, tick:[155,157.5,160,162.5,165,167.5,170], fs:13},
  {min:219.7, max:244, lab:ticksAMo, tick:[220,222.5,225,227.5,230,232.5,235,237.5,240,242.5], fs:13},
  {min:47.5, max:62, lab:ticksBSe, tick:[50,52.5,55,57.5,60], fs:15},
  {min:155, max:171.8, lab:ticksBS, tick:[155,157.5,160,162.5,165,167.5,170], fs:15},
  {min:220, max:242.4, lab:ticksBMo, tick:[220,222.5,225,227.5,230,232.5,235,237.5,240,242.5], fs:15}
];
const xAxis = xDefs.map((d, i) => ({
  type:'value', gridIndex:i, min:d.min, max:d.max,
  axisLine:{show:true, onZero:false, lineStyle:{color:'#8a8a8a', width:1.3}},
  axisTick:{show:true, inside:true, length:3, customValues:d.tick, lineStyle:{color:'#8a8a8a'}},
  axisLabel:{customValues:d.lab, color:'#111', fontWeight:'bold', fontSize:d.fs, fontFamily:FA, margin: i < 3 ? 4 : 3, showMinLabel:true, showMaxLabel:true},
  splitLine:{show:false}
}));
const yAxis = gridsPx.map((g, i) => ({type:'value', gridIndex:i, min:0, max:g.height, show:false}));

// ===== graphic text / legends / frames =====
const G = [];
function T(x, y, text, o) {
  o = o || {};
  G.push({type:'text', x, y, rotation:o.rot || 0, silent:true, z:10, style:{text, fill:o.c || '#111', fontSize:o.fs || 13,
    fontWeight:o.fw || 'bold', fontFamily:o.ff || FA, align:o.al || 'left', verticalAlign:o.va || 'middle', rich:o.rich}});
}
function L(x1, y1, x2, y2, c, w, dash) {
  G.push({type:'line', silent:true, z:10, shape:{x1, y1, x2, y2}, style:{stroke:c, lineWidth:w || 1, lineDash:dash || null}});
}
function SQ(x, y, s) {
  G.push({type:'rect', silent:true, z:10, shape:{x:x - s/2, y:y - s/2, width:s, height:s}, style:{fill:'#fff1dc', stroke:'#f0a048', lineWidth:1.2}});
}
// frames
G.push({type:'rect', silent:true, shape:{x:8.5, y:7.5, width:1340, height:623}, style:{fill:null, stroke:'#222', lineWidth:1}});
G.push({type:'polyline', silent:true, shape:{points:[[77,488],[77,38],[650,38],[650,488]]}, style:{fill:null, stroke:'#8a8a8a', lineWidth:1.3}});
G.push({type:'polyline', silent:true, shape:{points:[[702,497],[702,36],[1310,36],[1310,497]]}, style:{fill:null, stroke:'#8a8a8a', lineWidth:1.3}});

// rich styles
function rich(fs, ff, c) {
  return {b:{fontSize:fs, fontWeight:'bold', fontFamily:ff, fill:c || '#111'},
          s:{fontSize:Math.round(fs*0.68), fontWeight:'bold', fontFamily:ff, fill:c || '#111', padding:[Math.round(fs*0.4),0,0,0]},
          u:{fontSize:Math.round(fs*0.68), fontWeight:'bold', fontFamily:ff, fill:c || '#111', padding:[0,0,Math.round(fs*0.55),0]}};
}
const rA = rich(12, FL), rB = rich(15, FL);
// panel labels
T(57, 48, 'A', {fs:18});
T(676, 47, 'B', {fs:18});
// Panel A legend
L(177, 48, 190, 48, COL.cyan, 1.5); T(194, 48, '{b|Se 3d}{s|5/2}', {rich:rA, ff:FL});
L(177, 63, 190, 63, COL.cyan, 1.2, [2,2]); T(194, 63, '{b|Se 3d}{s|3/2}', {rich:rA, ff:FL});
L(270, 48, 283, 48, COL.green, 1.5); T(285, 48, '{b|S 2p}{s|3/2}', {rich:rA, ff:FL});
L(270, 63, 283, 63, COL.green, 1.2, [2,2]); T(285, 63, '{b|S 2p}{s|1/2}', {rich:rA, ff:FL});
L(368, 48, 382, 48, COL.blue, 1.5); T(384, 48, '{b|Se 3p}{s|5/2}', {rich:rA, ff:FL});
L(368, 63, 382, 63, COL.blue, 1.2, [2,2]); T(384, 63, '{b|Se 3p}{s|3/2}', {rich:rA, ff:FL});
L(472, 46, 485, 46, COL.red, 1.5); T(488, 45, '{b|Mo 3d}{s|5/2}', {rich:rA, ff:FL});
L(472, 61, 485, 61, COL.red, 1.2, [2,2]); T(488, 60, '{b|Mo 3d}{s|3/2}', {rich:rA, ff:FL});
L(558, 46, 572, 46, '#111', 1.5); T(575, 46, 'Raw Intensity', {fs:12, ff:FL});
SQ(567, 60, 5); T(575, 62, 'Curve Fitting', {fs:12, ff:FL});
// Panel B legend
L(713, 51, 731, 51, COL.cyan, 3); T(737, 49, '{b|Se 3d}{s|5/2}', {rich:rB, ff:FL});
L(713, 67, 731, 67, COL.cyan, 3, [3,3]); T(737, 68, '{b|Se 3d}{s|3/2}', {rich:rB, ff:FL});
L(828, 51, 848, 51, COL.green, 3); T(851, 49, '{b|S 2p}{s|3/2}', {rich:rB, ff:FL});
L(828, 67, 848, 67, COL.green, 3, [3,3]); T(851, 68, '{b|S 2p}{s|1/2}', {rich:rB, ff:FL});
L(949, 41, 966, 41, COL.blue, 3); T(975, 40, '{b|Se 3p}{s|5/2}', {rich:rB, ff:FL});
L(949, 60, 966, 60, COL.blue, 3, [3,3]); T(975, 60, '{b|Se 3p}{s|3/2}', {rich:rB, ff:FL});
L(1080, 47, 1098, 47, COL.red, 3); T(1103, 45, '{b|Mo 3d}{s|5/2}', {rich:rB, ff:FL});
L(1080, 65, 1098, 65, COL.red, 3, [3,3]); T(1103, 64, '{b|Mo 3d}{s|3/2}', {rich:rB, ff:FL});
L(1188, 47, 1205, 47, '#111', 3); T(1208, 46, 'Raw Intensity', {fs:15, ff:FL});
SQ(1197, 61, 8); T(1208, 66, 'Curve Fitting', {fs:15, ff:FL});
// temperature labels A
const rT = {b:{fontSize:14, fontWeight:'bold', fontFamily:FA, fill:'#111'}, u:{fontSize:9, fontWeight:'bold', fontFamily:FA, fill:'#111', padding:[0,0,7,0]},
            s:{fontSize:9, fontWeight:'bold', fontFamily:FA, fill:'#111', padding:[7,0,0,0]}};
[138, 222, 308, 399].forEach((y, i) => T(648, y, '{b|' + tempA[i] + '}{u|o}{b|C}', {al:'right', rich:rT}));
T(647, 478, '{b|as-grown MoS}{s|2}', {al:'right', rich:{b:{fontSize:14, fontWeight:'normal', fontFamily:FA, fill:'#111'}, s:{fontSize:9, fontFamily:FA, fill:'#111', padding:[7,0,0,0]}}});
// temperature labels B
[155, 247, 326, 407, 477].forEach((y, i) => T(1293, y, tempB[i] + '˚C', {al:'right', fs:16, ff:FL}));
// annotations
T(406, 83, 'Se', {fs:15, c:'#2233cc'});
T(350, 143, 'S', {fs:15, c:'#1e8c1e', al:'center'});
T(512, 192, 'S 2s', {fs:14, c:'#1e8c1e', al:'center'});
T(599, 352, 'MoO3', {fs:14, c:'#7a1040', al:'center'});
T(968, 94, 'S', {fs:18, c:'#2e7d4f', al:'center', ff:FL});
T(1068, 262, 'Se', {fs:17, c:'#1d3b6e', al:'center', ff:FL});
// axis titles
T(372, 518, 'Binding Energy (eV)', {fs:14, al:'center'});
T(1010, 524, 'Binding Energy (eV)', {fs:17, al:'center'});
T(57, 268, 'Intensity (a.u.)', {fs:16, al:'center', rot:Math.PI/2});
T(677, 250, 'Intensity (a.u.)', {fs:16, al:'center', rot:Math.PI/2});
// caption
const rC = {b:{fontSize:18.5, fontWeight:'bold', fontFamily:FA, fill:'#111'}, s:{fontSize:11.5, fontWeight:'bold', fontFamily:FA, fill:'#111', padding:[7,0,0,0]},
            n:{fontSize:17.5, fontWeight:'normal', fontFamily:"Roboto, 'Liberation Sans', sans-serif", fill:'#222'}};
T(22, 588, '{b|FIGURE 3 | XPS scans for the Mo, S, and Se binding energies for (A) the as-grown MoS}{s|2}{b| and those after selenization, and (B) the as-grown MoSe}{s|2}{b| and}', {rich:rC});
T(22, 612, '{b|those after sulfurization}{n|. The magnitude of each profile was normalized for easier comparison.}', {rich:rC});

const chart = echarts.init(document.getElementById('c'), null, {renderer:'svg', width:1354, height:639});
chart.setOption({
  animation:false, backgroundColor:'#fff',
  grid: gridsPx.map(g => Object.assign({containLabel:false}, g)),
  xAxis, yAxis, series, graphic:G
});
</script></body></html>
